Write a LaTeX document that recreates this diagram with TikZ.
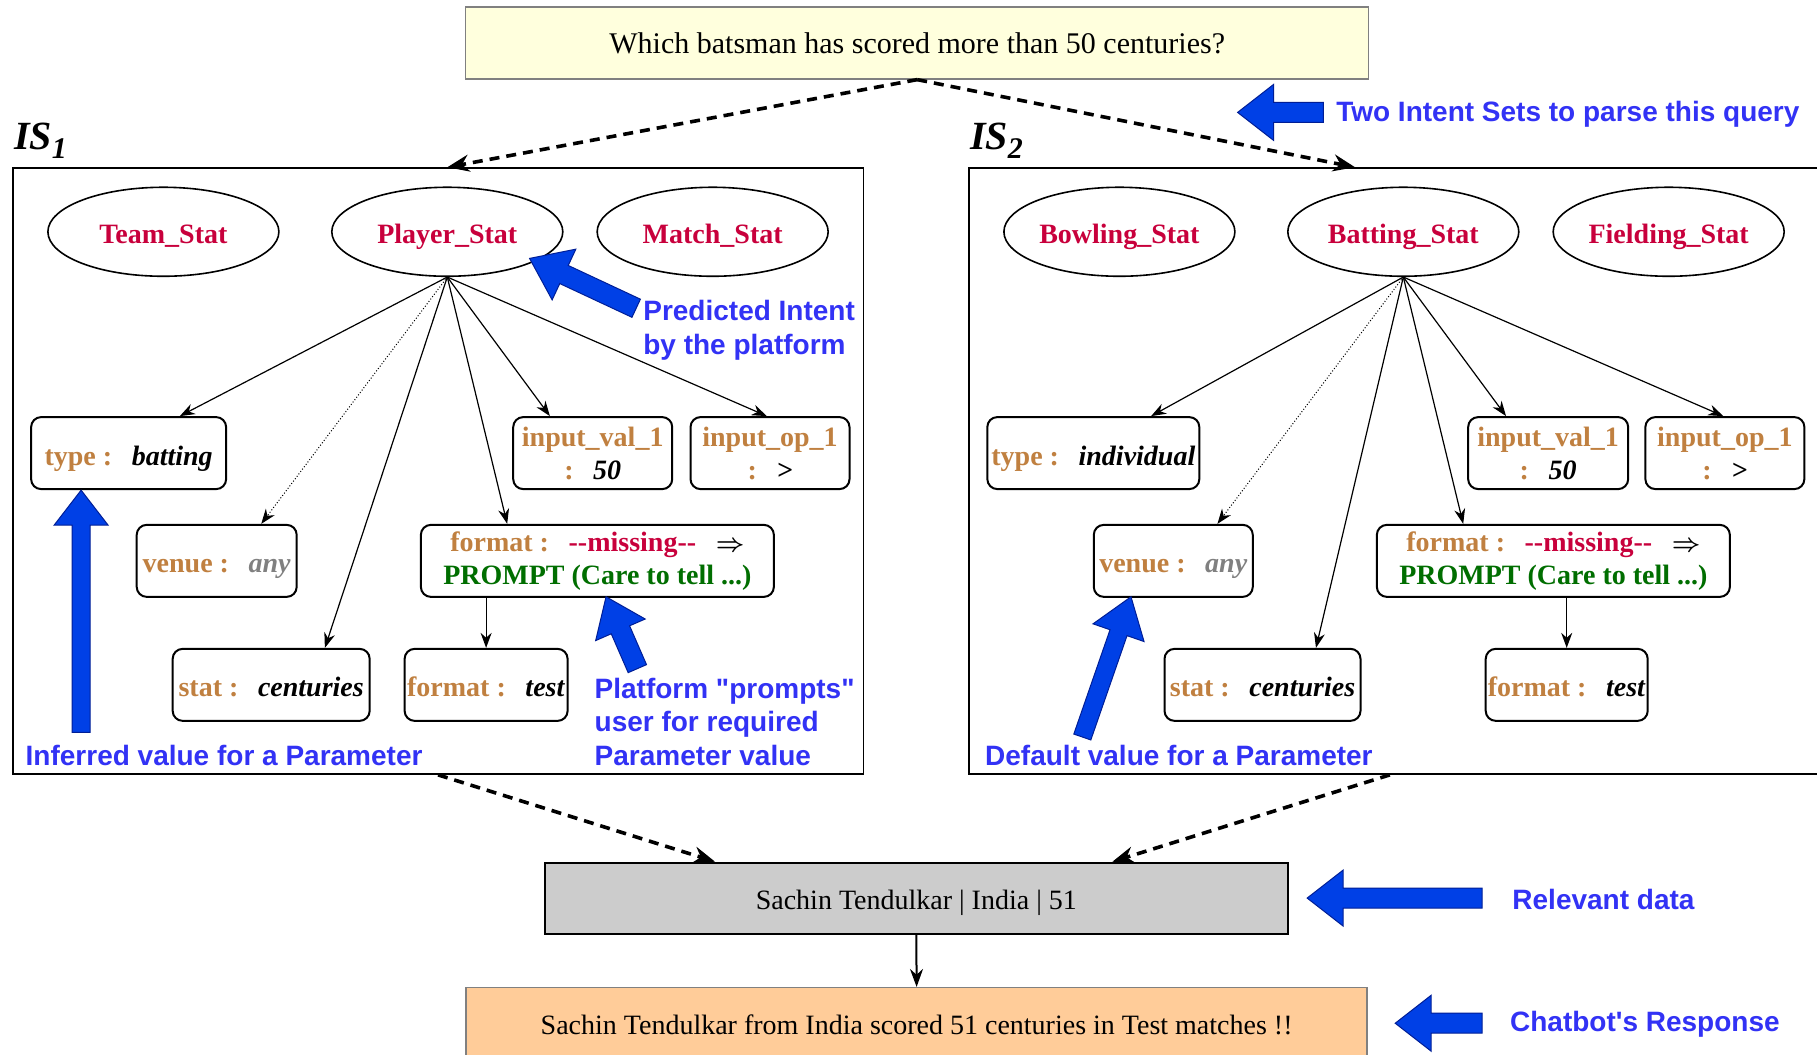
\documentclass[tikz,border=0pt]{standalone}
\usepackage{fontspec}
\setmainfont{Liberation Serif}
\newfontfamily\bluefont{Liberation Sans}
\usetikzlibrary{arrows.meta,calc,shapes.geometric}
\definecolor{crim}{RGB}{200,0,60}
\definecolor{keycol}{RGB}{192,128,64}
\definecolor{prgreen}{RGB}{0,110,0}
\definecolor{bluetxt}{RGB}{50,50,245}
\definecolor{arrfill}{RGB}{0,64,230}
\definecolor{arrline}{RGB}{0,30,150}
\definecolor{qfill}{RGB}{255,255,221}
\definecolor{dfill}{RGB}{204,204,204}
\definecolor{rfill}{RGB}{255,204,153}
\definecolor{anygray}{RGB}{128,128,128}
\newcommand\kk[1]{\textcolor{keycol}{#1}}
\newcommand\vv[1]{\textit{#1}}
\newcommand\gap{\hspace{0.7em}}
\newcommand\impl{{\boldmath$\Rightarrow$}}
\newcommand\blockarr[5]{%
  \coordinate (ba-hb) at ($(#2)!#5!(#1)$);
  \filldraw[fill=arrfill, draw=arrline, line width=1pt, line join=miter]
    ($(#1)!#3!90:(#2)$) -- ($(ba-hb)!#3!90:(#2)$) -- ($(ba-hb)!#4!90:(#2)$) -- (#2)
    -- ($(ba-hb)!#4!-90:(#2)$) -- ($(ba-hb)!#3!-90:(#2)$) -- ($(#1)!#3!-90:(#2)$) -- cycle;}
\begin{document}
\begin{tikzpicture}[x=1.1588pt, y=-1.1588pt,
  intent/.style={ellipse, draw, line width=1.6pt, minimum width=231pt, minimum height=89pt,
    font=\fontsize{28}{33}\selectfont\bfseries, text=crim, inner sep=0pt, text height=24pt, text depth=0pt},
  param/.style={rectangle, rounded corners=10pt, draw, line width=2pt, minimum height=72pt,
    font=\fontsize{28}{33}\selectfont\bfseries, align=center, inner sep=2pt},
  oneline/.style={text height=24pt, text depth=0pt},
  edge/.style={-{Stealth[length=15pt,width=11pt]}, line width=1.2pt},
  dotedge/.style={-{Stealth[length=15pt,width=11pt]}, line width=1pt, dotted},
  dashedge/.style={-{Stealth[length=22pt,width=17pt]}, line width=3.6pt, dash pattern=on 10pt off 7pt},
  setbox/.style={rectangle, draw, line width=1.6pt, inner sep=0pt},
  bluelab/.style={font=\bluefont\bfseries\fontsize{28}{33.6}\selectfont, text=bluetxt, anchor=west, inner sep=0pt, align=left},
  islab/.style={anchor=base west, inner sep=0pt, font=\fontsize{40}{40}\selectfont\bfseries\itshape}
]
\clip (0,0) rectangle (1568,910);
\fill[white] (0,0) rectangle (1568,910);

% query
\node[rectangle, draw=black!50, line width=1.5pt, fill=qfill, minimum width=903pt, minimum height=72pt,
  font=\fontsize{30}{36}\selectfont] (query) at (791.5,37) {Which batsman has scored more than 50 centuries?};

% intent set boxes
\node[setbox, minimum width=850.6pt, minimum height=606pt] (isA) at (378,406.5) {};
\node[setbox, minimum width=862pt, minimum height=606pt] (isB) at (1208,406.5) {};
\node[islab] (isAlbl) at (12,129.4) {IS\raisebox{-9pt}{\fontsize{30}{30}\selectfont 1}};
\node[islab] (isBlbl) at (837,129.4) {IS\raisebox{-9pt}{\fontsize{30}{30}\selectfont 2}};

% intents
\node[intent] (teamstat) at (141,200) {Team\_Stat};
\node[intent] (playerstat) at (386,200) {Player\_Stat};
\node[intent] (matchstat) at (615,200) {Match\_Stat};
\node[intent] (bowlstat) at (966,200) {Bowling\_Stat};
\node[intent] (batstat) at (1211,200) {Batting\_Stat};
\node[intent] (fieldstat) at (1440,200) {Fielding\_Stat};

% parameters IS1
\node[param, oneline, minimum width=195pt] (typeA) at (111,391) {\kk{type :}\gap\vv{batting}};
\node[param, minimum width=159pt] (ivalA) at (511.5,391) {\kk{input\_val\_1}\\\kk{:}\gap\vv{50}};
\node[param, minimum width=159pt] (iopA) at (664.5,391) {\kk{input\_op\_1}\\\kk{:}\gap\vv{>}};
\node[param, oneline, minimum width=160pt] (venueA) at (187,484) {\kk{venue :}\gap\textcolor{anygray}{\vv{any}}};
\node[param, minimum width=353pt] (fmA) at (515.5,484) {\kk{format :}\gap\textcolor{crim}{-{}-missing-{}-}\gap\impl\\\textcolor{prgreen}{PROMPT (Care to tell ...)}};
\node[param, oneline, minimum width=197pt] (statA) at (234,591) {\kk{stat :}\gap\vv{centuries}};
\node[param, oneline, minimum width=163pt] (ftA) at (419.5,591) {\kk{format :}\gap\vv{test}};

% parameters IS2
\node[param, oneline, minimum width=212pt] (typeB) at (943.5,391) {\kk{type :}\gap\vv{individual}};
\node[param, minimum width=160pt] (ivalB) at (1336,391) {\kk{input\_val\_1}\\\kk{:}\gap\vv{50}};
\node[param, minimum width=159pt] (iopB) at (1488.5,391) {\kk{input\_op\_1}\\\kk{:}\gap\vv{>}};
\node[param, oneline, minimum width=159pt] (venueB) at (1012.5,484) {\kk{venue :}\gap\textcolor{anygray}{\vv{any}}};
\node[param, minimum width=353pt] (fmB) at (1340.5,484) {\kk{format :}\gap\textcolor{crim}{-{}-missing-{}-}\gap\impl\\\textcolor{prgreen}{PROMPT (Care to tell ...)}};
\node[param, oneline, minimum width=196pt] (statB) at (1089.5,591) {\kk{stat :}\gap\vv{centuries}};
\node[param, oneline, minimum width=162pt] (ftB) at (1352,591) {\kk{format :}\gap\vv{test}};

% edges IS1
\draw[edge] (playerstat.south) -- ($(typeA.north west)!0.76!(typeA.north east)$);
\draw[dotedge] (playerstat.south) -- ($(venueA.north west)!0.775!(venueA.north east)$);
\draw[edge] (playerstat.south) -- ($(statA.north west)!0.77!(statA.north east)$);
\draw[edge] (playerstat.south) -- ($(fmA.north west)!0.246!(fmA.north east)$);
\draw[edge] (playerstat.south) -- ($(ivalA.north west)!0.234!(ivalA.north east)$);
\draw[edge] (playerstat.south) -- ($(iopA.north west)!0.48!(iopA.north east)$);
\draw[edge] (fmA.south -| ftA.north) -- (ftA.north);

% edges IS2
\draw[edge] (batstat.south) -- ($(typeB.north west)!0.77!(typeB.north east)$);
\draw[dotedge] (batstat.south) -- ($(venueB.north west)!0.774!(venueB.north east)$);
\draw[edge] (batstat.south) -- ($(statB.north west)!0.77!(statB.north east)$);
\draw[edge] (batstat.south) -- ($(fmB.north west)!0.246!(fmB.north east)$);
\draw[edge] (batstat.south) -- ($(ivalB.north west)!0.24!(ivalB.north east)$);
\draw[edge] (batstat.south) -- ($(iopB.north west)!0.49!(iopB.north east)$);
\draw[edge] (fmB.south -| ftB.north) -- (ftB.north);

% bottom boxes
\node[rectangle, draw, line width=2.5pt, fill=dfill, minimum width=743pt, minimum height=71pt,
  text height=23pt, text depth=0pt,
  font=\fontsize{28}{33}\selectfont] (data) at (790.75,775.3) {Sachin Tendulkar | India | 51};
\node[rectangle, draw=black!50, line width=1.5pt, fill=rfill, minimum width=901pt, minimum height=72pt,
  text height=22pt, text depth=0pt,
  font=\fontsize{28}{33}\selectfont] (resp) at (791,883.4) {Sachin Tendulkar from India scored 51 centuries in Test matches !!};

% dashed flows
\coordinate (isBtop) at ($(isB.north west)+(334,0)$);
\coordinate (isBbot) at ($(isB.south west)+(364,0)$);
\draw[dashedge] (query.south) -- (isA.north -| playerstat);
\draw[dashedge] (query.south) -- (isBtop);
\draw[dashedge] (isA.south) -- ($(data.north west)!0.23!(data.north east)$);
\draw[dashedge] (isBbot) -- ($(data.north west)!0.763!(data.north east)$);
\draw[-{Stealth[length=18pt,width=13pt]}, line width=2pt] (data.south) -- (resp.north);

% blue annotation arrows
\coordinate (a1t) at (1142,97);  \coordinate (a1h) at (1068,97);
\coordinate (a2t) at (549,266);  \coordinate (a2h) at (457,223);
\coordinate (a3t) at (70,632);   \coordinate (a3h) at (70,423);
\coordinate (a4t) at (550,577);  \coordinate (a4h) at (523,515);
\coordinate (a5t) at (934,636);  \coordinate (a5h) at (976,515);
\coordinate (a6t) at (1279,775); \coordinate (a6h) at (1128,775);
\coordinate (a7t) at (1279,883); \coordinate (a7h) at (1204,883);
\blockarr{a1t}{a1h}{10pt}{28pt}{36pt}
\blockarr{a2t}{a2h}{10pt}{28pt}{38pt}
\blockarr{a3t}{a3h}{9pt}{27pt}{35pt}
\blockarr{a4t}{a4h}{10pt}{27pt}{36pt}
\blockarr{a5t}{a5h}{9pt}{27pt}{38pt}
\blockarr{a6t}{a6h}{10pt}{28pt}{36pt}
\blockarr{a7t}{a7h}{10pt}{28pt}{36pt}

% blue labels
\node[bluelab] (l1) at (1153,99) {Two Intent Sets to parse this query};
\node[bluelab] (l2) at (555,285) {Predicted Intent\\by the platform};
\node[bluelab] (l3) at (22,652) {Inferred value for a Parameter};
\node[bluelab] (l4) at (513,623) {Platform "prompts"\\user for required\\Parameter value};
\node[bluelab] (l5) at (850,652) {Default value for a Parameter};
\node[bluelab] (l6) at (1305,776) {Relevant data};
\node[bluelab] (l7) at (1303,884) {Chatbot's Response};
\end{tikzpicture}
\end{document}
